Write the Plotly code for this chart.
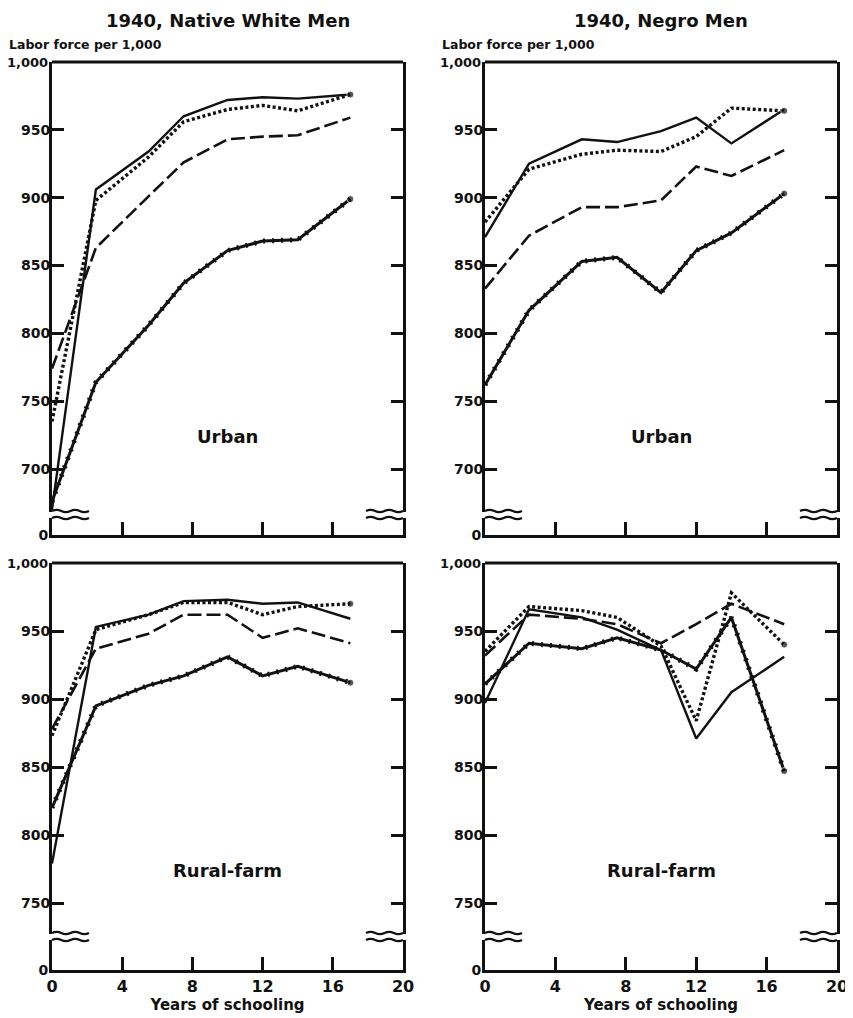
import plotly.graph_objects as go

# page body adds an 8px margin, so the figure is made smaller and offset
OFF = 8
W, H = 853 - OFF, 1018 - OFF

# ---------------- data ----------------
schooling = [0, 2.5, 5.5, 7.5, 10, 12, 14, 17]

white_urban_solid = [670, 906, 934, 960, 972, 974, 973, 976]
white_urban_dotted = [735, 898, 930, 956, 965, 968, 964, 976]
white_urban_dashed = [774, 863, 901, 926, 943, 945, 946, 959]
white_urban_heavy = [676, 764, 806, 837, 861, 868, 869, 899]

negro_urban_solid = [871, 925, 943, 941, 949, 959, 940, 965]
negro_urban_dotted = [882, 921, 932, 935, 934, 945, 966, 964]
negro_urban_dashed = [833, 872, 893, 893, 898, 923, 916, 935]
negro_urban_heavy = [762, 817, 853, 856, 830, 861, 874, 903]

white_rural_solid = [779, 953, 962, 972, 973, 970, 971, 959]
white_rural_dotted = [873, 951, 962, 971, 971, 962, 968, 970]
white_rural_dashed = [878, 937, 948, 962, 962, 945, 952, 941]
white_rural_heavy = [820, 895, 910, 917, 931, 917, 924, 912]

negro_rural_solid = [897, 966, 960, 951, 936, 871, 905, 931]
negro_rural_dotted = [935, 968, 965, 960, 939, 884, 978, 940]
negro_rural_dashed = [932, 962, 959, 955, 941, 955, 970, 955]
negro_rural_heavy = [911, 941, 937, 945, 936, 922, 960, 847]

column_titles = ["1940, Native White Men", "1940, Negro Men"]
row_labels = ["Urban", "Rural-farm"]
y_label = "Labor force per 1,000"
x_label = "Years of schooling"
x_ticks = [0, 4, 8, 12, 16, 20]
top_y_ticks = [700, 750, 800, 850, 900, 950]
bottom_y_ticks = [750, 800, 850, 900, 950]
y_top_value = 1000
y_top_text = "1,000"

panels = [
    (white_urban_solid, white_urban_dotted, white_urban_dashed, white_urban_heavy),
    (negro_urban_solid, negro_urban_dotted, negro_urban_dashed, negro_urban_heavy),
    (white_rural_solid, white_rural_dotted, white_rural_dashed, white_rural_heavy),
    (negro_rural_solid, negro_rural_dotted, negro_rural_dashed, negro_rural_heavy),
]

# ---------------- layout geometry (window pixels) ----------------
FONT = "DejaVu Sans"
INK = "#111111"
col_px = [(52, 403), (485, 837)]
row_px = [
    dict(top=62, mbot=512, ztop=518, zbot=535, ppu=1.3567),
    dict(top=563, mbot=934, ztop=940, zbot=970, ppu=1.36),
]


def px_x(p):
    return (p - OFF) / W


def px_y(p):
    return 1 - (p - OFF) / H


def sfx(n):
    return "" if n == 1 else str(n)


fig = go.Figure()
layout = dict(
    width=W, height=H,
    margin=dict(l=0, r=0, t=0, b=0),
    paper_bgcolor="white", plot_bgcolor="white",
    showlegend=False,
    font=dict(family=FONT, color=INK, size=15),
)
shapes = []
annotations = []


def wave_path(x0, x1, y, amp, n=4):
    xs = [x0 + (x1 - x0) * k / n for k in range(n + 1)]
    d = f"M {px_x(xs[0])},{px_y(y)}"
    for k in range(n):
        xm = (xs[k] + xs[k + 1]) / 2
        sign = -1 if k % 2 == 0 else 1
        d += f" Q {px_x(xm)},{px_y(y + sign * amp * 2)} {px_x(xs[k + 1])},{px_y(y)}"
    return d


tick_font = dict(size=14, family=FONT, color=INK, weight="bold")

for i, series in enumerate(panels):
    r, c = divmod(i, 2)
    n = i + 1
    xa = "x" + sfx(n)
    ya = "y" + sfx(n)
    yz = "y" + sfx(n + 4)
    cx0, cx1 = col_px[c]
    g = row_px[r]
    rng_bot = y_top_value - (g["mbot"] - g["top"]) / g["ppu"]
    yticks = top_y_ticks if r == 0 else bottom_y_ticks
    solid, dotted, dashed, heavy = series

    common = dict(x=schooling, xaxis=xa, yaxis=ya, hoverinfo="skip")
    fig.add_trace(go.Scatter(y=solid, mode="lines",
                             line=dict(color=INK, width=2.4), **common))
    fig.add_trace(go.Scatter(y=dashed, mode="lines",
                             line=dict(color=INK, width=2.6, dash="14px,5px"), **common))
    fig.add_trace(go.Scatter(y=dotted, mode="lines+markers",
                             line=dict(color=INK, width=3.4, dash="3px,2.5px"),
                             marker=dict(size=[0] * (len(schooling) - 1) + [7], color=INK),
                             **common))
    fig.add_trace(go.Scatter(y=heavy, mode="lines+markers",
                             line=dict(color=INK, width=3.0),
                             marker=dict(size=[0] * (len(schooling) - 1) + [7], color=INK),
                             **common))
    fig.add_trace(go.Scatter(y=heavy, mode="lines",
                             line=dict(color=INK, width=5, dash="2px,7px"), **common))
    # empty trace so the zero strip subplot exists
    fig.add_trace(go.Scatter(x=[None], y=[None], xaxis=xa, yaxis=yz,
                             mode="lines", hoverinfo="skip"))

    xdom = [px_x(cx0), px_x(cx1)]
    layout["xaxis" + sfx(n)] = dict(
        domain=xdom, anchor=yz, range=[0, 20],
        showline=True, linewidth=3, linecolor=INK,
        ticks="inside", ticklen=13, tickwidth=2.5, tickcolor=INK,
        tickvals=x_ticks, ticktext=[str(v) for v in x_ticks],
        showticklabels=(r == 1),
        tickfont=dict(size=16, family=FONT, color=INK, weight="bold"),
        showgrid=False, zeroline=False, fixedrange=True, automargin=False,
        title=dict(text=x_label if r == 1 else "", standoff=2,
                   font=dict(size=15, family=FONT, color=INK, weight="bold")),
    )
    layout["yaxis" + sfx(n)] = dict(
        domain=[px_y(g["mbot"]), px_y(g["top"])], anchor=xa,
        range=[rng_bot, y_top_value],
        showline=True, linewidth=3, linecolor=INK, mirror="ticks",
        ticks="inside", ticklen=12, tickwidth=2.5, tickcolor=INK,
        tickvals=yticks, ticktext=[str(v) for v in yticks],
        tickfont=tick_font, ticklabelstandoff=-4,
        showgrid=False, zeroline=False, fixedrange=True, automargin=False,
    )
    layout["yaxis" + sfx(n + 4)] = dict(
        domain=[px_y(g["zbot"]), px_y(g["ztop"])], anchor=xa,
        range=[0, 10],
        showline=True, linewidth=3, linecolor=INK, mirror=True,
        ticks="", tickvals=[0], ticktext=["0"],
        tickfont=tick_font, ticklabelstandoff=-2,
        showgrid=False, zeroline=False, fixedrange=True, automargin=False,
    )
    shapes.append(dict(type="line", xref=f"{xa} domain", yref=f"{ya} domain",
                       x0=0, x1=1, y0=1, y1=1,
                       line=dict(color=INK, width=3)))
    for yy in (g["mbot"] - 1, g["ztop"]):
        shapes.append(dict(type="path", xref="paper", yref="paper",
                           path=wave_path(cx0, cx0 + 37, yy, 1.2),
                           line=dict(color=INK, width=2.2)))
        shapes.append(dict(type="path", xref="paper", yref="paper",
                           path=wave_path(cx1 - 37, cx1, yy, 1.2),
                           line=dict(color=INK, width=2.2)))
    # "1,000" label at top of the axis
    annotations.append(dict(
        xref=f"{xa} domain", yref=ya, x=0, y=y_top_value, xshift=-2,
        xanchor="right", yanchor="middle", text=y_top_text, showarrow=False,
        font=dict(size=13, family=FONT, color=INK, weight="bold"),
    ))
    annotations.append(dict(
        xref=xa, yref=ya, x=10, y=(724 if r == 0 else 774),
        xanchor="center", yanchor="middle",
        text=row_labels[r], showarrow=False,
        font=dict(size=18, family=FONT, color=INK, weight="bold"),
    ))
    if r == 0:
        annotations.append(dict(
            xref="paper", yref="paper", x=(xdom[0] + xdom[1]) / 2, y=px_y(20),
            xanchor="center", yanchor="middle",
            text=column_titles[c], showarrow=False,
            font=dict(size=18, family=FONT, color=INK, weight="bold"),
        ))
        annotations.append(dict(
            xref="paper", yref="paper", x=px_x(cx0 - 45), y=px_y(44),
            xanchor="left", yanchor="middle", text=y_label, showarrow=False,
            font=dict(size=12.5, family=FONT, color=INK, weight="bold"),
        ))

layout["shapes"] = shapes
layout["annotations"] = annotations
fig.update_layout(**layout)
fig.write_html("out.html")
